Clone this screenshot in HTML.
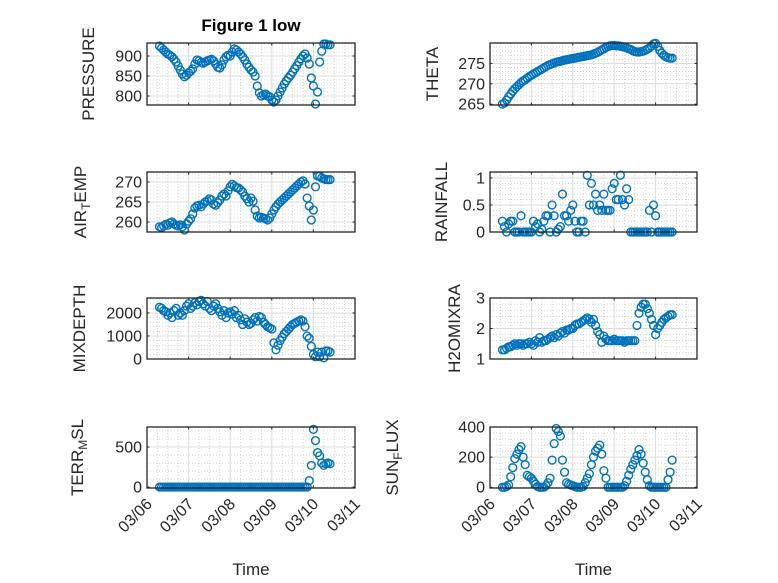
<!DOCTYPE html>
<html><head><meta charset="utf-8"><style>
html,body{margin:0;padding:0;background:#fff;}
svg{display:block;font-family:"Liberation Sans","DejaVu Sans",sans-serif;}
</style></head><body>
<svg id="fig" width="778" height="583" viewBox="0 0 778 583" xmlns="http://www.w3.org/2000/svg">
<rect width="778" height="583" fill="#fff"/>
<text x="251" y="31" text-anchor="middle" font-size="17" font-weight="bold" fill="#000">Figure 1 low</text>
</svg>
<script>
const T0 = 0.30, DT = 0.05;
const xTickLabels = ["03/06","03/07","03/08","03/09","03/10","03/11"];
const pressure = [925,920,915,910,905,902,898,892,885,875,865,855,848,852,858,862,868,880,890,888,884,882,885,888,890,892,888,880,872,870,878,890,898,902,900,910,918,915,910,905,898,890,880,872,865,860,850,825,808,800,803,805,800,798,790,785,790,800,810,820,830,838,845,852,860,868,876,885,893,900,905,895,880,845,825,780,810,885,912,930,930,928,928];
const airTemp = [258.8,258.6,259.0,259.4,259.2,259.8,260.0,259.5,259.2,259.0,259.3,258.8,258.0,259.5,260.2,260.8,262.0,263.5,264.0,264.2,263.8,264.5,265.0,265.3,265.8,265.5,264.5,264.2,264.8,265.5,266.5,267.0,266.5,267.8,268.8,269.4,269.0,268.6,268.5,268.0,267.5,266.5,265.8,265.0,266.0,265.2,263.0,261.5,261.0,261.2,261.0,260.8,260.5,261.0,262.0,263.0,263.8,264.5,265.0,265.5,266.0,266.5,267.0,267.5,268.0,268.5,269.0,269.5,270.0,270.3,269.5,266.0,264.0,260.5,263.0,268.8,271.5,271.5,271.0,270.8,270.6,270.6,270.6];
const mixDepth = [2250,2200,2100,2050,1900,2000,1800,2100,2200,1900,2000,1900,2100,2300,2400,2200,2300,2450,2350,2500,2550,2400,2300,2500,2200,2100,2300,2400,2200,2050,1900,2100,1800,2000,2050,1950,2100,1800,1900,1700,1500,1750,1600,1500,1550,1700,1800,1650,1850,1800,1600,1500,1400,1350,1300,700,400,600,800,950,1100,1200,1300,1400,1500,1550,1600,1650,1700,1650,1400,1000,900,550,200,100,300,100,300,50,350,350,300];
const terrMsl = [0,0,0,0,0,0,0,0,0,0,0,0,0,0,0,0,0,0,0,0,0,0,0,0,0,0,0,0,0,0,0,0,0,0,0,0,0,0,0,0,0,0,0,0,0,0,0,0,0,0,0,0,0,0,0,0,0,0,0,0,0,0,0,0,0,0,0,0,0,0,0,0,80,270,720,580,430,390,300,270,290,300,290];
const theta = [265.0,265.3,266.0,266.8,267.5,268.2,268.8,269.3,269.8,270.3,270.7,271.0,271.4,271.8,272.1,272.4,272.7,273.0,273.3,273.6,273.9,274.2,274.5,274.7,274.9,275.1,275.3,275.4,275.5,275.7,275.8,275.9,276.0,276.1,276.2,276.3,276.4,276.5,276.6,276.7,276.8,276.9,277.0,277.1,277.3,277.5,277.7,278.0,278.3,278.6,278.9,279.1,279.3,279.4,279.4,279.3,279.3,279.2,279.1,279.0,278.8,278.6,278.4,278.1,277.9,277.8,277.8,277.9,278.0,278.2,278.5,278.8,279.3,279.8,279.9,279.2,278.2,277.5,277.0,276.6,276.4,276.3,276.3];
const rainfall = [0.2,0.1,0.0,0.15,0.2,0.2,0.0,0.0,0.0,0.3,0.0,0.0,0.0,0.0,0.0,0.2,0.1,0.15,0.0,0.05,0.2,0.3,0.3,0.0,0.5,0.3,0.0,0.05,0.1,0.7,0.3,0.3,0.2,0.4,0.5,0.2,0.0,0.0,0.2,0.2,0.0,1.05,0.5,0.9,0.5,0.7,0.4,0.5,0.4,0.7,0.4,0.4,0.4,0.8,0.9,0.6,0.6,1.05,0.6,0.5,0.8,0.6,0.0,0.0,0.0,0.0,0.0,0.0,0.0,0.0,0.0,0.4,0.0,0.5,0.3,0.0,0.0,0.0,0.0,0.0,0.0,0.0,0.0];
const h2oMixRa = [1.3,1.3,1.35,1.4,1.4,1.45,1.5,1.45,1.5,1.5,1.45,1.5,1.5,1.55,1.5,1.45,1.6,1.55,1.7,1.55,1.6,1.6,1.65,1.7,1.75,1.7,1.8,1.75,1.85,1.9,1.85,1.95,1.95,2.0,2.0,2.1,2.15,2.15,2.2,2.25,2.3,2.35,2.3,2.2,2.3,2.1,1.9,1.8,1.55,1.75,1.65,1.6,1.6,1.6,1.65,1.6,1.6,1.6,1.6,1.55,1.6,1.6,1.6,1.6,1.6,2.1,2.5,2.7,2.8,2.8,2.65,2.5,2.3,2.1,1.8,2.0,2.1,2.2,2.3,2.35,2.4,2.45,2.45];
const sunFlux = [0,0,5,15,70,130,190,220,250,270,200,150,80,70,60,40,20,5,0,0,0,10,30,60,180,290,390,370,340,180,100,30,20,15,10,5,0,0,0,5,30,60,90,150,200,240,260,280,220,110,60,0,0,0,0,0,0,0,0,10,40,80,120,150,180,210,250,220,160,100,50,10,0,0,0,0,0,0,0,0,50,100,180];

const panels = [
 {id:"pressure", label:["PRESSURE"], vals:pressure, x0:147,x1:355,y0:43,y1:105, ymin:777.5,ymax:932.5, ticks:[800,850,900], minor:10, lx:94},
 {id:"theta", label:["THETA"], vals:theta, x0:490,x1:697,y0:43,y1:105, ymin:264.8,ymax:280, ticks:[265,270,275], minor:1, lx:438},
 {id:"air-temp", label:["AIR","T","EMP"], vals:airTemp, x0:147,x1:355,y0:172,y1:232, ymin:257.5,ymax:272.5, ticks:[260,265,270], minor:1, lx:86},
 {id:"rainfall", label:["RAINFALL"], vals:rainfall, x0:490,x1:697,y0:172,y1:232, ymin:0,ymax:1.11, ticks:[0,0.5,1], minor:0.1, lx:447},
 {id:"mixdepth", label:["MIXDEPTH"], vals:mixDepth, x0:147,x1:355,y0:298,y1:359, ymin:0,ymax:2650, ticks:[0,1000,2000], minor:200, lx:85},
 {id:"h2omixra", label:["H2OMIXRA"], vals:h2oMixRa, x0:490,x1:697,y0:298,y1:359, ymin:1,ymax:3, ticks:[1,2,3], minor:0.2, lx:460},
 {id:"terr-msl", label:["TERR","M","SL"], vals:terrMsl, x0:147,x1:355,y0:427,y1:488, ymin:-12,ymax:750, ticks:[0,500], minor:100, lx:83},
 {id:"sun-flux", label:["SUN","F","LUX"], vals:sunFlux, x0:490,x1:697,y0:427,y1:488, ymin:-5,ymax:400, ticks:[0,200,400], minor:40, lx:398}
];
const NS = "http://www.w3.org/2000/svg";
const svg = document.getElementById("fig");
function mk(tag, attrs, parent){ const e=document.createElementNS(NS,tag); for(const k in attrs) e.setAttribute(k,attrs[k]); (parent||svg).appendChild(e); return e; }

panels.forEach((p, pi) => {
  const g = mk("g", {});
  
  
  const sx = t => p.x0 + (t/5)*(p.x1-p.x0);
  const sy = v => p.y1 - (v-p.ymin)/(p.ymax-p.ymin)*(p.y1-p.y0);
  mk("rect",{x:p.x0,y:p.y0,width:p.x1-p.x0,height:p.y1-p.y0,fill:"#fff"},g);
  for(let t=0.25;t<5;t+=0.25){ if(Math.abs(t-Math.round(t))<1e-6) continue;
    mk("line",{x1:sx(t),x2:sx(t),y1:p.y0,y2:p.y1,stroke:"#bbb","stroke-width":0.6,"stroke-dasharray":"1 2"},g); }
  const start = Math.ceil(p.ymin/p.minor)*p.minor;
  for(let v=start; v<p.ymax; v+=p.minor){
    const y=sy(v); if(y<=p.y0+0.5||y>=p.y1-0.5) continue;
    mk("line",{x1:p.x0,x2:p.x1,y1:y,y2:y,stroke:"#bbb","stroke-width":0.6,"stroke-dasharray":"1 2"},g); }
  for(let d=1; d<5; d++) mk("line",{x1:sx(d),x2:sx(d),y1:p.y0,y2:p.y1,stroke:"#dcdcdc","stroke-width":1},g);
  p.ticks.forEach(v=>{ const y=sy(v); if(y>p.y0+1&&y<p.y1-1) mk("line",{x1:p.x0,x2:p.x1,y1:y,y2:y,stroke:"#dcdcdc","stroke-width":1},g); });
  for(let d=0; d<=5; d++){ mk("line",{x1:sx(d),x2:sx(d),y1:p.y1,y2:p.y1-2.5,stroke:"#262626","stroke-width":1},g); mk("line",{x1:sx(d),x2:sx(d),y1:p.y0,y2:p.y0+2.5,stroke:"#262626","stroke-width":1},g); }
  p.ticks.forEach(v=>{ const y=sy(v);
    mk("line",{x1:p.x0,x2:p.x0+2.5,y1:y,y2:y,stroke:"#262626"},g);
    mk("line",{x1:p.x1,x2:p.x1-2.5,y1:y,y2:y,stroke:"#262626"},g);
    const tl = mk("text",{x:p.x0-5,y:y+5.5,"text-anchor":"end","font-size":16,fill:"#262626"},g);
    
    
    tl.textContent = String(v);
  });
  p.vals.forEach((v,i)=>{
    const c = mk("circle",{cx:sx(T0+i*DT),cy:sy(v),r:3.9,fill:"none",stroke:"#0072BD","stroke-width":1.4},g);
    
    
  });
  mk("rect",{x:p.x0,y:p.y0,width:p.x1-p.x0,height:p.y1-p.y0,fill:"none",stroke:"#262626","stroke-width":1.3},g);
  const cy=(p.y0+p.y1)/2;
  const yl = mk("text",{x:p.lx,y:cy,transform:`rotate(-90 ${p.lx} ${cy})`,"text-anchor":"middle","font-size":17,fill:"#262626"},g);
  
  
  if(p.label.length===1){ yl.textContent=p.label[0]; }
  else { const a=mk("tspan",{},yl); a.textContent=p.label[0];
    const b=mk("tspan",{dy:4,"font-size":12},yl); b.textContent=p.label[1];
    const c=mk("tspan",{dy:-4},yl); c.textContent=p.label[2]; }
  if(pi>=6){
    xTickLabels.forEach((s,d)=>{ const x=sx(d)+6, y=p.y1+17;
      const xt=mk("text",{x:x,y:y,transform:`rotate(-45 ${x} ${y})`,"text-anchor":"end","font-size":16,fill:"#262626"},g);
      
      
      xt.textContent=s; });
    const xl=mk("text",{x:(p.x0+p.x1)/2,y:575,"text-anchor":"middle","font-size":17,fill:"#262626"},g);
    
    
    xl.textContent="Time";
  }
});
</script>
</body></html>
